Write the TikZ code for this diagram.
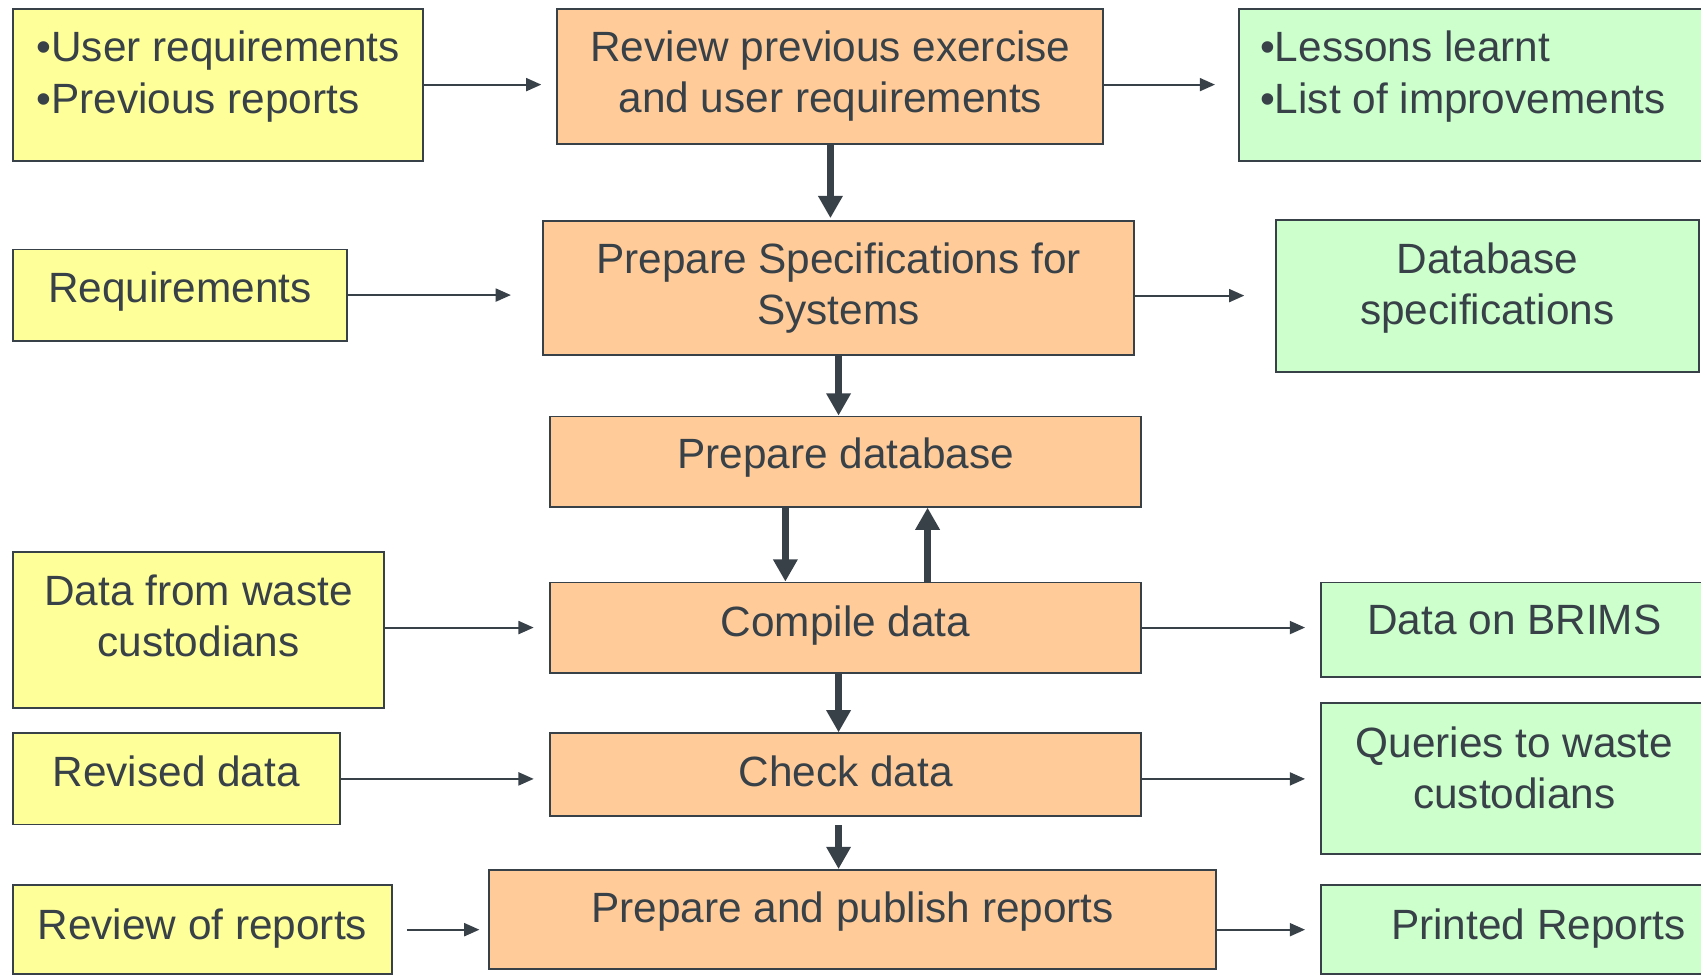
\documentclass[tikz,border=0pt]{standalone}
\usepackage{fontspec}
\setmainfont{Liberation Sans}
\usetikzlibrary{arrows.meta}
\definecolor{ink}{RGB}{56,64,72}
\definecolor{inyellow}{RGB}{255,255,153}
\definecolor{steporange}{RGB}{255,204,153}
\definecolor{outgreen}{RGB}{204,255,204}
\begin{document}
\begin{tikzpicture}[x=0.01cm,y=-0.01cm,
	box/.style={draw=ink,line width=0.5pt,inner sep=0pt,text=ink,align=center,font=\fontsize{11.1}{13.4}\selectfont},
	inbox/.style={box,fill=inyellow},
	stepbox/.style={box,fill=steporange},
	outbox/.style={box,fill=outgreen},
	feed/.style={ink,line width=0.5pt,-{Triangle[length=0.14cm,width=0.12cm]}},
	flow/.style={ink,line width=1.9pt,-{Triangle[length=0.205cm,width=0.215cm]}}]
\useasboundingbox (0,0) rectangle (1568,900);
% inputs
\node[inbox,minimum width=3.78cm,minimum height=1.40cm,align=left,text depth=6.5pt] (in1) at (201,78) {•User requirements\\•Previous reports};
\node[inbox,minimum width=3.08cm,minimum height=0.84cm,text depth=3.9pt] (in2) at (166,272) {Requirements};
\node[inbox,minimum width=3.42cm,minimum height=1.44cm,text depth=7.6pt] (in3) at (183,581) {Data from waste\\custodians};
\node[inbox,minimum width=3.01cm,minimum height=0.84cm,text depth=3.9pt] (in4) at (162.5,718) {Revised data};
\node[inbox,minimum width=3.49cm,minimum height=0.82cm,text depth=2.8pt] (in5) at (186.5,857) {Review of reports};
% steps
\node[stepbox,minimum width=5.03cm,minimum height=1.25cm,text depth=2.3pt] (p1) at (765.5,70.5) {Review previous exercise\\and user requirements};
\node[stepbox,minimum width=5.44cm,minimum height=1.23cm,text depth=2.3pt] (p2) at (773,265.5) {Prepare Specifications for\\Systems};
\node[stepbox,minimum width=5.45cm,minimum height=0.83cm,text depth=4.2pt] (p3) at (779.5,425.5) {Prepare database};
\node[stepbox,minimum width=5.45cm,minimum height=0.83cm,text depth=3.6pt] (p4) at (779.5,578.5) {Compile data};
\node[stepbox,minimum width=5.45cm,minimum height=0.76cm,text depth=1.6pt] (p5) at (779.5,714) {Check data};
\node[stepbox,minimum width=6.70cm,minimum height=0.91cm,text depth=6.4pt] (p6) at (786,847.5) {Prepare and publish reports};
% outputs
\node[outbox,minimum width=4.32cm,minimum height=1.40cm,align=left,text depth=6.5pt] (o1) at (1358,78) {•Lessons learnt\\•List of improvements\hspace*{0.19cm}};
\node[outbox,minimum width=3.90cm,minimum height=1.40cm,text depth=6.4pt] (o2) at (1371,272.5) {Database\\specifications};
\node[outbox,minimum width=3.56cm,minimum height=0.87cm,text depth=5.3pt] (o3) at (1396,580.5) {Data on BRIMS};
\node[outbox,minimum width=3.56cm,minimum height=1.39cm,text depth=5.6pt] (o4) at (1396,717.5) {Queries to waste\\custodians};
\node[outbox,minimum width=4.00cm,minimum height=0.82cm,text depth=2.8pt] (o5) at (1418,857) {Printed Reports};
% thin arrows
\draw[feed,shorten >=0.14cm] (in1.east) -- (in1.east -| p1.west);
\draw[feed,shorten >=0.21cm] (p1.east |- o1) -- (o1.west);
\draw[feed,shorten >=0.29cm] (in2.east) -- (in2.east -| p2.west);
\draw[feed,shorten >=0.28cm] (p2.east |- o2) -- (o2.west);
\draw[feed,shorten >=0.14cm] (in3.east |- p4) -- (p4.west);
\draw[feed,shorten >=0.14cm] (p4.east) -- (p4.east -| o3.west);
\draw[feed,shorten >=0.14cm] (in4.east) -- (in4.east -| p5.west);
\draw[feed,shorten >=0.14cm] (p5.east |- in4) -- (o4.west |- in4);
\draw[feed,shorten <=0.13cm,shorten >=0.08cm] (in5.east) -- (in5.east -| p6.west);
\draw[feed,shorten >=0.14cm] (p6.east |- o5) -- (o5.west);
% thick arrows
\draw[flow,shorten >=0.02cm] (p1.south) -- (p1.south |- p2.north);
\draw[flow] (p2.south) -- (p2.south |- p3.north);
\draw[flow] ([xshift=-0.555cm]p3.south) -- ([xshift=-0.555cm]p3.south |- p4.north);
\draw[flow] ([xshift=0.755cm]p4.north) -- ([xshift=0.755cm]p4.north |- p3.south);
\draw[flow] (p4.south -| p2) -- (p5.north -| p2);
\draw[flow,shorten <=0.08cm] (p5.south -| p2) -- (p6.north -| p2);
\end{tikzpicture}
\end{document}
